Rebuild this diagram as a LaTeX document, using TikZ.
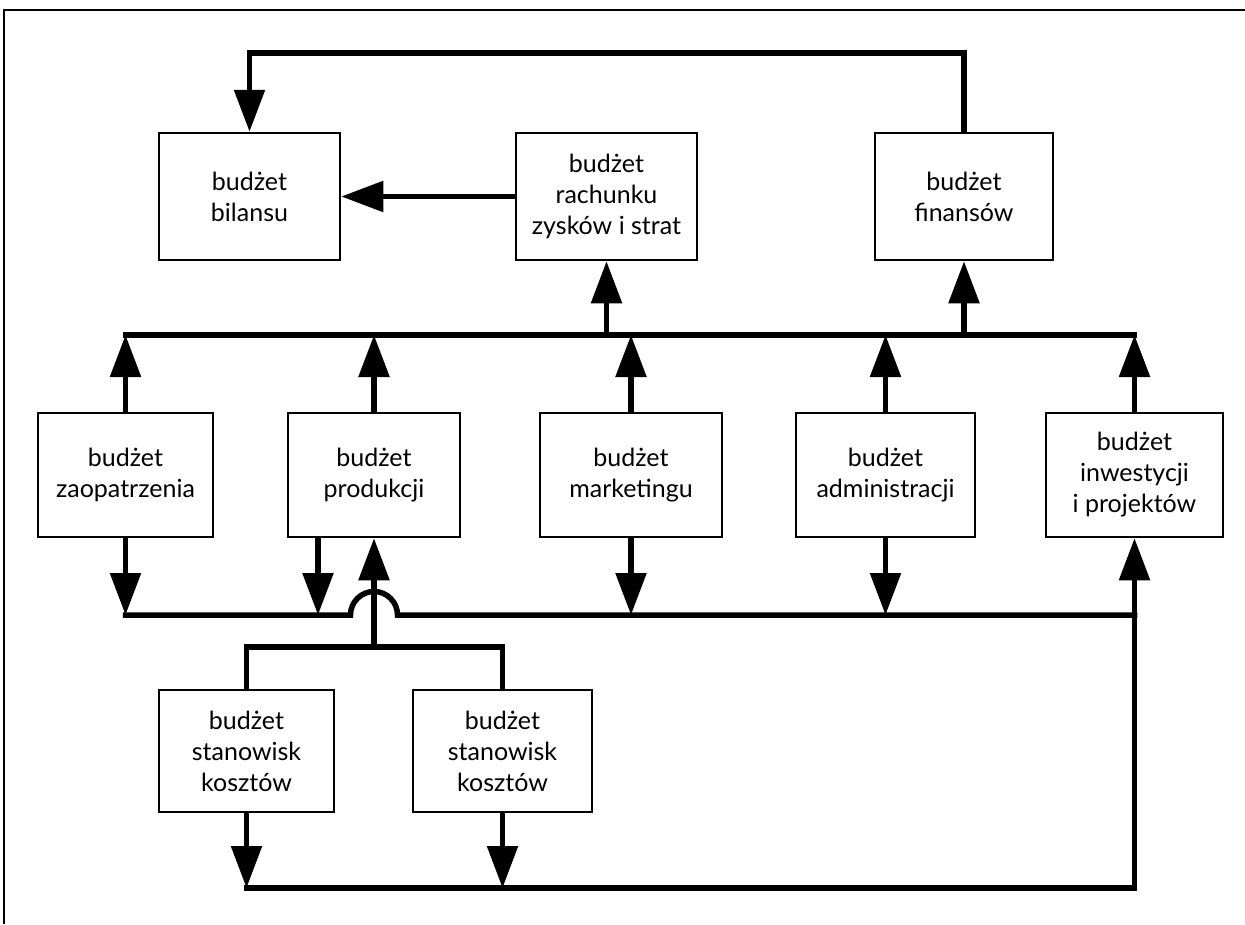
\documentclass[tikz,border=0pt]{standalone}
\usepackage{fontspec}
\setmainfont{Lato}
\usetikzlibrary{arrows.meta,calc}
\begin{document}
\begin{tikzpicture}[x=1pt,y=-1pt,
  box/.style={draw,line width=2.5pt,rectangle,minimum height=125pt,align=center,inner sep=0pt,font=\fontsize{25}{31}\selectfont},
  conn/.style={line width=5.5pt},
  bus/.style={line width=5.5pt,line cap=rect},
  arr/.style={line width=5.5pt,-{Triangle[length=42pt,width=30pt]}},
  frame/.style={line width=2.5pt}]
\useasboundingbox (0,0) rectangle (1245,924);
% frame
\coordinate (fbl) at (4,924);
\coordinate (ftl) at (4,10);
\coordinate (ftr) at (1245,10);
\draw[frame] (fbl) -- (ftl) -- (ftr);
% levels
\coordinate (yt) at (0,53);
\coordinate (ub) at (0,335);
\coordinate (lb) at (0,615);
\coordinate (br) at (0,647);
\coordinate (bb) at (0,888);
% top row
\node[box,minimum width=181pt,minimum height=127pt] (bil) at (249.5,196.5) {budżet\\bilansu};
\node[box,minimum width=181pt,minimum height=127pt] (rach) at (606.5,196.5) {budżet\\rachunku\\zysków i strat};
\node[box,minimum width=178pt,minimum height=127pt] (fin) at (964,196.5) {budżet\\finansów};
% middle row
\node[box,minimum width=175pt,minimum height=124pt] (zao) at (125.5,475) {budżet\\zaopatrzenia};
\node[box,minimum width=172pt,minimum height=124pt] (prod) at (374,475) {budżet\\produkcji};
\node[box,minimum width=182pt,minimum height=124pt] (mark) at (631,475) {budżet\\marketingu};
\node[box,minimum width=179pt,minimum height=124pt] (adm) at (885.5,475) {budżet\\administracji};
\node[box,minimum width=177pt,minimum height=124pt] (inw) at (1134.5,475) {budżet\\inwestycji\\i projektów};
% bottom row
\node[box,minimum width=175pt,minimum height=122pt] (st1) at (246.5,751) {budżet\\stanowisk\\kosztów};
\node[box,minimum width=179pt,minimum height=122pt] (st2) at (502.5,751) {budżet\\stanowisk\\kosztów};
% top loop
\draw[arr] (fin.north) -- (fin.north |- yt) -- (bil.north |- yt) -- (bil.north);
\draw[arr] (rach.west) -- (bil.east);
% upper bus
\draw[bus] (zao.north |- ub) -- (inw.north |- ub);
\foreach \n in {zao,prod,mark,adm,inw}
  \draw[arr] (\n.north) -- (\n.north |- ub);
\draw[arr] (rach.south |- ub) -- (rach.south);
\draw[arr] (fin.south |- ub) -- (fin.south);
% lower bus with hop
\draw[bus] (zao.south |- lb) -- ($(prod.south |- lb)+(-23.5,0)$)
  arc[start angle=180,end angle=360,radius=23.5] -- (inw.south |- lb);
\draw[arr] (zao.south) -- (zao.south |- lb);
\draw[arr] ($(prod.south)+(-56,0)$) -- ($(prod.south |- lb)+(-56,0)$);
\draw[arr] (mark.south) -- (mark.south |- lb);
\draw[arr] (adm.south) -- (adm.south |- lb);
% branch from cost centres to production
\draw[conn] (st1.north) -- (st1.north |- br) -- (st2.north |- br) -- (st2.north);
\draw[arr] (prod.south |- br) -- (prod.south);
% bottom bus
\draw[arr] (st1.south) -- (st1.south |- bb);
\draw[arr] (st2.south) -- (st2.south |- bb);
\draw[bus] (st1.south |- bb) -- (inw.south |- bb);
\draw[arr] (inw.south |- bb) -- (inw.south);
\end{tikzpicture}
\end{document}
